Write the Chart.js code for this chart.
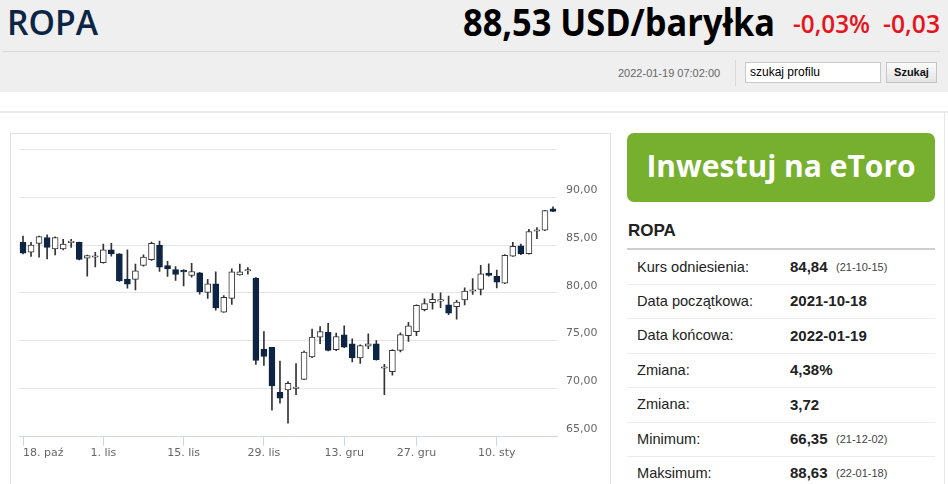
<!DOCTYPE html>
<html lang="pl">
<head>
<meta charset="utf-8">
<script src="https://cdn.jsdelivr.net/npm/chart.js@4.4.1/dist/chart.umd.min.js"></script>
<style>
body{margin:0;width:948px;height:484px;overflow:hidden;background:#fff;font-family:"Liberation Sans",Arial,sans-serif;position:relative}
.abs{position:absolute;white-space:nowrap}
#top{left:0;top:0;width:948px;height:92px;background:#efefef}
.big{font-family:"Open Sans",sans-serif;line-height:1;transform-origin:left top}
#name{left:7px;top:4px;font-size:35px;font-weight:600;color:#0c2545}
#price{left:463px;top:2px;font-size:38px;font-weight:700;color:#000}
#pct{left:793px;top:11px;font-size:25px;font-weight:600;color:#e8141c}
#chg{left:883px;top:11px;font-size:25px;font-weight:600;color:#e8141c}
#sep{left:3px;top:51px;width:937px;height:1px;background:#d9d9d9}
#date{left:618px;top:67px;font-size:11px;color:#666}
#div{left:735px;top:60px;width:1px;height:26px;background:#dadada}
#search{left:745px;top:62px;height:19px;border:1px solid #c9c9c9;background:#fff;font-size:12px;line-height:19px;padding-left:4px;width:130px}
#btn{left:886px;top:62px;width:49px;height:19px;border:1px solid #c4c4c4;background:linear-gradient(#fbfbfb,#e4e4e4);font-size:11px;font-weight:bold;line-height:19px;text-align:center;color:#111}
#hline{left:0;top:111px;width:948px;height:2px;background:#ebebeb}
#vline{left:944px;top:112px;width:1px;height:372px;background:#e6e6e6}
#panel{left:10px;top:133px;width:599px;height:360px;border:1px solid #e2e2e2}
#wrap{left:11px;top:134px;width:598px;height:348px}
#etoro{left:627px;top:133px;width:308px;height:69px;border-radius:7px;background:#77b02f;color:#fff;font-family:"Open Sans",sans-serif;font-weight:700;font-size:30px;line-height:66px;text-align:center}
#ropa2{left:628px;top:221px;font-size:17px;font-weight:bold;color:#222}
#uline{left:627px;top:248px;width:308px;height:2px;background:#cfcfcf}
.lab{font-size:14.6px;color:#222}
.val{font-size:15px;font-weight:bold;color:#222}
.sm{font-size:11px;color:#444}
.rsep{left:627px;width:308px;height:1px;background:#ececec}
</style>
</head>
<body>
<div id="top" class="abs"></div>
<div id="name" class="abs big">ROPA</div>
<div id="price" class="abs big">88,53 USD/baryłka</div>
<div id="pct" class="abs big">-0,03%</div>
<div id="chg" class="abs big">-0,03</div>
<div id="sep" class="abs"></div>
<div id="date" class="abs">2022-01-19 07:02:00</div>
<div id="div" class="abs"></div>
<div id="search" class="abs">szukaj profilu</div>
<div id="btn" class="abs">Szukaj</div>
<div id="hline" class="abs"></div>
<div id="vline" class="abs"></div>
<div id="panel" class="abs"></div>
<div id="wrap" class="abs"><canvas id="chart"></canvas></div>
<div id="etoro" class="abs">Inwestuj na eToro</div>
<div id="ropa2" class="abs">ROPA</div>
<div id="uline" class="abs"></div>
<div id="rows"></div>
<script>
// trading days shown on the chart
const dates = [
  "2021-10-18","2021-10-19","2021-10-20","2021-10-21","2021-10-22",
  "2021-10-25","2021-10-26","2021-10-27","2021-10-28","2021-10-29",
  "2021-11-01","2021-11-02","2021-11-03","2021-11-04","2021-11-05",
  "2021-11-08","2021-11-09","2021-11-10","2021-11-11","2021-11-12",
  "2021-11-15","2021-11-16","2021-11-17","2021-11-18","2021-11-19",
  "2021-11-22","2021-11-23","2021-11-24","2021-11-25","2021-11-26",
  "2021-11-29","2021-11-30","2021-12-01","2021-12-02","2021-12-03",
  "2021-12-06","2021-12-07","2021-12-08","2021-12-09","2021-12-10",
  "2021-12-13","2021-12-14","2021-12-15","2021-12-16","2021-12-17",
  "2021-12-20","2021-12-21","2021-12-22","2021-12-23",
  "2021-12-27","2021-12-28","2021-12-29","2021-12-30","2021-12-31",
  "2022-01-03","2022-01-04","2022-01-05","2022-01-06","2022-01-07",
  "2022-01-10","2022-01-11","2022-01-12","2022-01-13","2022-01-14",
  "2022-01-17","2022-01-18","2022-01-19"
];
const open = [
  85.28,84.25,85.17,85.79,84.59, 84.59,85.25,85.28,83.63,83.72,
  83.15,84.49,84.08,81.44,81.40, 82.88,83.46,85.00,82.84,82.43,
  82.25,81.82,82.09,80.04,80.93, 77.98,79.42,81.88,82.28,81.54,
  74.11,74.28,69.58,69.83,69.98, 70.93,73.28,75.35,75.86,74.03,
  75.59,74.66,73.17,74.42,74.66, 72.10,71.73,73.97,75.52,
  75.93,78.22,78.97,79.12,78.73, 78.56,79.25,80.16,80.35,82.07,
  81.73,81.00,83.83,84.93,84.11, 86.45,86.55,88.80
];
const high = [
  85.95,85.28,85.95,86.06,85.85, 85.60,85.60,85.30,83.95,84.25,
  85.10,85.17,84.10,84.49,83.00, 83.97,85.30,85.41,83.29,82.74,
  82.43,83.09,82.15,81.40,82.19, 79.70,82.50,83.00,82.63,81.60,
  75.93,74.30,72.84,70.70,72.59, 73.90,76.20,76.45,76.79,75.79,
  76.55,75.17,74.55,75.69,75.00, 72.50,74.05,75.80,76.90,
  78.75,79.38,79.93,80.00,79.66, 79.20,80.52,81.48,82.87,83.04,
  82.38,84.00,85.28,85.10,86.66, 86.83,88.63,89.00
];
const low = [
  84.08,83.80,83.74,83.56,83.97, 84.50,84.76,83.45,81.75,82.71,
  83.10,83.84,81.20,80.49,80.30, 82.80,83.40,82.23,81.71,81.30,
  80.72,81.65,79.86,79.42,78.19, 77.95,78.77,81.85,81.96,72.50,
  72.40,67.70,68.45,66.35,69.32, 70.90,73.20,74.66,73.90,73.95,
  74.25,72.76,72.59,74.14,72.95, 69.32,71.38,73.80,74.90,
  75.52,78.10,78.28,78.45,77.70, 77.24,78.73,79.83,79.77,81.75,
  80.52,80.95,83.80,84.00,84.05, 85.66,86.50,88.50
];
const close = [
  84.15,85.00,85.89,84.76,85.79, 85.10,85.30,83.50,83.90,83.76,
  84.49,84.08,81.24,80.90,82.30, 83.74,85.17,82.68,82.50,81.92,
  82.20,82.23,80.10,80.93,78.42, 79.52,82.19,82.19,82.32,72.91,
  73.33,70.24,68.97,70.51,70.02, 73.80,75.35,75.93,73.97,75.42,
  74.31,73.17,74.48,74.66,73.00, 72.18,73.97,75.62,76.55,
  78.69,78.87,79.31,79.16,77.86, 79.04,80.18,80.20,82.00,81.83,
  81.11,83.93,84.86,84.07,86.42, 86.60,88.60,88.53
];
const tickDates = ["2021-10-18","2021-11-01","2021-11-15","2021-11-29","2021-12-13","2021-12-27","2022-01-10"];
const tickLabels = ["18. paź","1. lis","15. lis","29. lis","13. gru","27. gru","10. sty"];

// side table
const rowLabels = ["Kurs odniesienia:","Data początkowa:","Data końcowa:","Zmiana:","Zmiana:","Minimum:","Maksimum:"];
const rowValues = ["84,84","2021-10-18","2022-01-19","4,38%","3,72","66,35","88,63"];
const rowNotes = ["(21-10-15)","","","","","(21-12-02)","(22-01-18)"];

const rows = document.getElementById("rows");
for (let i = 0; i < rowLabels.length; i++) {
  const cy = 267 + i * 34.4;
  rows.insertAdjacentHTML("beforeend",
    `<div class="abs lab" style="left:637px;top:${cy - 8.5}px">${rowLabels[i]}</div>` +
    `<div class="abs val" style="left:790px;top:${cy - 9}px">${rowValues[i]}</div>` +
    (rowNotes[i] ? `<div class="abs sm" style="left:836px;top:${cy - 6}px">${rowNotes[i]}</div>` : "") +
    (i < rowLabels.length - 1 ? `<div class="abs rsep" style="top:${cy + 17}px"></div>` : ""));
}

// squeeze the header texts to the widths seen on the page
function fitWidth(id, w) {
  const el = document.getElementById(id);
  const r = el.getBoundingClientRect().width;
  el.style.transform = `scaleX(${w / r})`;
}
fitWidth("name", 91);
fitWidth("price", 312);
fitWidth("pct", 77);
fitWidth("chg", 57);

const downColor = "#0d2444";
const isDown = i => close[i] < open[i];
const bodies = dates.map((d, i) => [open[i], close[i]]);
const wicks = dates.map((d, i) => [low[i], high[i]]);

Chart.defaults.font.family = "DejaVu Sans";
Chart.defaults.font.size = 11;

new Chart(document.getElementById("chart"), {
  type: "bar",
  data: {
    labels: dates,
    datasets: [
      {
        data: bodies,
        grouped: false,
        barThickness: 6,
        minBarLength: 1.5,
        borderWidth: 1,
        borderSkipped: false,
        backgroundColor: c => isDown(c.dataIndex) ? downColor : "#ffffff",
        borderColor: c => isDown(c.dataIndex) ? downColor : "#333333"
      },
      {
        data: wicks,
        grouped: false,
        barThickness: 1,
        borderWidth: 0,
        backgroundColor: "#333333"
      }
    ]
  },
  options: {
    responsive: true,
    maintainAspectRatio: false,
    animation: false,
    layout: { padding: { left: 8, right: 7, top: 11, bottom: 10 } },
    plugins: { legend: { display: false }, tooltip: { enabled: false } },
    scales: {
      x: {
        offset: true,
        grid: {
          offset: false,
          drawOnChartArea: false,
          tickLength: 10,
          tickColor: c => tickDates.includes(dates[c.index]) ? "#ccd6eb" : "rgba(0,0,0,0)"
        },
        border: { color: "#ccd6eb" },
        ticks: {
          autoSkip: false,
          maxRotation: 0,
          align: "inner",
          padding: 1,
          color: "#666666",
          callback: function (v) {
            const k = tickDates.indexOf(this.getLabelForValue(v));
            return k < 0 ? "" : tickLabels[k];
          }
        },
        afterFit: s => { s.height = 36; }
      },
      y: {
        position: "right",
        min: 65,
        max: 95,
        grid: { color: "#e6e6e6", drawTicks: false },
        border: { display: false },
        ticks: {
          stepSize: 5,
          padding: 9,
          labelOffset: -7,
          color: "#666666",
          callback: v => v >= 95 ? "" : v.toFixed(2).replace(".", ",")
        },
        afterFit: s => { s.width = 45; }
      }
    }
  }
});
</script>
</body>
</html>
